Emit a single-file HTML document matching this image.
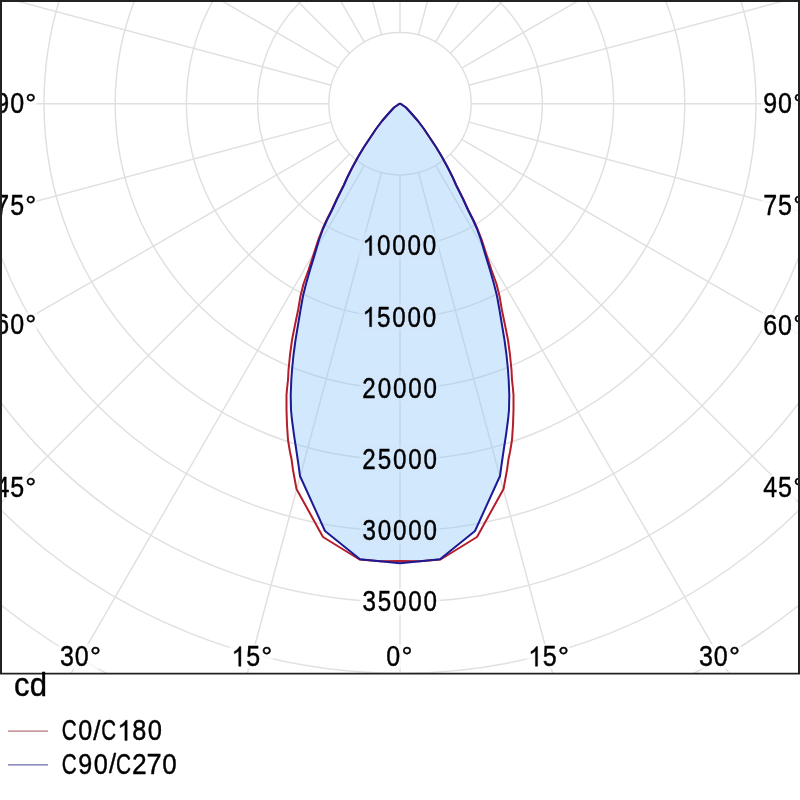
<!DOCTYPE html>
<html><head><meta charset="utf-8"><style>
html,body{margin:0;padding:0;background:#fff;}
body{width:800px;height:800px;overflow:hidden;}
svg{display:block;will-change:transform;}
text{font-family:"Liberation Sans",sans-serif;font-kerning:none;}
.t text,.t path{fill:#000;stroke:#000;stroke-linejoin:round;}
.t text{font-size:100px;}
.t tspan{fill:none;stroke:none;}
</style></head><body>
<svg width="800" height="800" viewBox="0 0 800 800">
<defs><clipPath id="c"><rect x="0" y="0" width="800" height="673.60"/></clipPath></defs>
<g clip-path="url(#c)">
<g fill="none" stroke="#e0e0e0" stroke-width="1.45">
<circle cx="400.00" cy="103.70" r="71.20"/>
<circle cx="400.00" cy="103.70" r="142.40"/>
<circle cx="400.00" cy="103.70" r="213.60"/>
<circle cx="400.00" cy="103.70" r="284.80"/>
<circle cx="400.00" cy="103.70" r="356.00"/>
<circle cx="400.00" cy="103.70" r="427.20"/>
<circle cx="400.00" cy="103.70" r="498.40"/>
<circle cx="400.00" cy="103.70" r="569.60"/>
<circle cx="400.00" cy="103.70" r="640.80"/>
<line x1="400.00" y1="174.90" x2="400.00" y2="1303.70"/>
<line x1="418.43" y1="172.47" x2="710.58" y2="1262.81"/>
<line x1="435.60" y1="165.36" x2="1000.00" y2="1142.93"/>
<line x1="450.35" y1="154.05" x2="1248.53" y2="952.23"/>
<line x1="461.66" y1="139.30" x2="1439.23" y2="703.70"/>
<line x1="468.77" y1="122.13" x2="1559.11" y2="414.28"/>
<line x1="471.20" y1="103.70" x2="1600.00" y2="103.70"/>
<line x1="468.77" y1="85.27" x2="1559.11" y2="-206.88"/>
<line x1="461.66" y1="68.10" x2="1439.23" y2="-496.30"/>
<line x1="450.35" y1="53.35" x2="1248.53" y2="-744.83"/>
<line x1="435.60" y1="42.04" x2="1000.00" y2="-935.53"/>
<line x1="418.43" y1="34.93" x2="710.58" y2="-1055.41"/>
<line x1="400.00" y1="32.50" x2="400.00" y2="-1096.30"/>
<line x1="381.57" y1="34.93" x2="89.42" y2="-1055.41"/>
<line x1="364.40" y1="42.04" x2="-200.00" y2="-935.53"/>
<line x1="349.65" y1="53.35" x2="-448.53" y2="-744.83"/>
<line x1="338.34" y1="68.10" x2="-639.23" y2="-496.30"/>
<line x1="331.23" y1="85.27" x2="-759.11" y2="-206.88"/>
<line x1="328.80" y1="103.70" x2="-800.00" y2="103.70"/>
<line x1="331.23" y1="122.13" x2="-759.11" y2="414.28"/>
<line x1="338.34" y1="139.30" x2="-639.23" y2="703.70"/>
<line x1="349.65" y1="154.05" x2="-448.53" y2="952.23"/>
<line x1="364.40" y1="165.36" x2="-200.00" y2="1142.93"/>
<line x1="381.57" y1="172.47" x2="89.42" y2="1262.81"/>
</g>
<path d="M400.00,103.70 L398.00,104.70 L394.00,107.50 L389.00,113.00 L382.00,121.00 L376.00,129.00 L370.00,138.00 L364.00,147.00 L358.00,157.00 L352.00,168.00 L347.00,178.00 L344.00,185.00 L337.00,199.00 L332.00,210.00 L327.00,220.00 L323.00,229.00 L319.00,240.00 L314.00,257.00 L310.00,270.00 L306.00,284.00 L303.00,296.00 L300.50,310.00 L298.00,325.00 L295.50,340.00 L293.50,355.00 L292.00,370.00 L291.30,380.00 L290.70,395.00 L291.00,410.00 L292.00,420.00 L294.00,435.00 L296.00,448.00 L298.50,465.00 L300.00,476.00 L325.00,531.00 L360.00,559.30 L400.00,563.30 L440.00,559.30 L475.00,531.00 L500.00,476.00 L501.50,465.00 L504.00,448.00 L506.00,435.00 L508.00,420.00 L509.00,410.00 L509.30,395.00 L508.70,380.00 L508.00,370.00 L506.50,355.00 L504.50,340.00 L502.00,325.00 L499.50,310.00 L497.00,296.00 L494.00,284.00 L490.00,270.00 L486.00,257.00 L481.00,240.00 L477.00,229.00 L473.00,220.00 L468.00,210.00 L463.00,199.00 L456.00,185.00 L453.00,178.00 L448.00,168.00 L442.00,157.00 L436.00,147.00 L430.00,138.00 L424.00,129.00 L418.00,121.00 L411.00,113.00 L406.00,107.50 L402.00,104.70 L400.00,103.70 Z" fill="#8ec5f7" fill-opacity="0.4" stroke="none"/>
<path d="M400.00,103.70 L398.00,104.70 L394.00,107.50 L389.00,113.00 L382.00,121.00 L376.00,129.00 L370.00,138.00 L364.00,147.00 L358.00,157.00 L352.00,168.00 L347.00,178.00 L343.80,185.00 L336.80,199.00 L331.70,210.00 L326.60,220.00 L322.50,229.00 L318.20,240.00 L312.80,257.00 L308.50,270.00 L303.50,284.00 L300.50,296.00 L298.10,310.00 L295.00,325.00 L292.00,340.00 L290.00,355.00 L288.50,370.00 L288.00,380.00 L287.00,389.00 L286.50,395.00 L286.50,410.00 L287.00,425.00 L288.00,440.00 L290.00,452.00 L291.50,459.00 L293.00,470.00 L296.50,489.00 L323.00,537.00 L359.50,559.50 L380.00,561.20 L400.00,561.00 L420.00,561.20 L440.50,559.50 L477.00,537.00 L503.50,489.00 L507.00,470.00 L508.50,459.00 L510.00,452.00 L512.00,440.00 L513.00,425.00 L513.50,410.00 L513.50,395.00 L513.00,389.00 L512.00,380.00 L511.50,370.00 L510.00,355.00 L508.00,340.00 L505.00,325.00 L501.90,310.00 L499.50,296.00 L496.50,284.00 L491.50,270.00 L487.20,257.00 L481.80,240.00 L477.50,229.00 L473.40,220.00 L468.30,210.00 L463.20,199.00 L456.20,185.00 L453.00,178.00 L448.00,168.00 L442.00,157.00 L436.00,147.00 L430.00,138.00 L424.00,129.00 L418.00,121.00 L411.00,113.00 L406.00,107.50 L402.00,104.70 L400.00,103.70 Z" fill="none" stroke="#b41e2a" stroke-width="2" stroke-linejoin="round"/>
<path d="M400.00,103.70 L398.00,104.70 L394.00,107.50 L389.00,113.00 L382.00,121.00 L376.00,129.00 L370.00,138.00 L364.00,147.00 L358.00,157.00 L352.00,168.00 L347.00,178.00 L344.00,185.00 L337.00,199.00 L332.00,210.00 L327.00,220.00 L323.00,229.00 L319.00,240.00 L314.00,257.00 L310.00,270.00 L306.00,284.00 L303.00,296.00 L300.50,310.00 L298.00,325.00 L295.50,340.00 L293.50,355.00 L292.00,370.00 L291.30,380.00 L290.70,395.00 L291.00,410.00 L292.00,420.00 L294.00,435.00 L296.00,448.00 L298.50,465.00 L300.00,476.00 L325.00,531.00 L360.00,559.30 L400.00,563.30 L440.00,559.30 L475.00,531.00 L500.00,476.00 L501.50,465.00 L504.00,448.00 L506.00,435.00 L508.00,420.00 L509.00,410.00 L509.30,395.00 L508.70,380.00 L508.00,370.00 L506.50,355.00 L504.50,340.00 L502.00,325.00 L499.50,310.00 L497.00,296.00 L494.00,284.00 L490.00,270.00 L486.00,257.00 L481.00,240.00 L477.00,229.00 L473.00,220.00 L468.00,210.00 L463.00,199.00 L456.00,185.00 L453.00,178.00 L448.00,168.00 L442.00,157.00 L436.00,147.00 L430.00,138.00 L424.00,129.00 L418.00,121.00 L411.00,113.00 L406.00,107.50 L402.00,104.70 L400.00,103.70 Z" fill="none" stroke="#1c1a94" stroke-width="2" stroke-linejoin="round"/>
<g class="t">
<rect x="358.90" y="232.25" width="80.20" height="26.70" fill="#d2e7fc" fill-opacity="0.7" stroke="none"/>
<path transform="matrix(0.01182,0,0,-0.01400,362.648,255.470)" stroke-width="30.99" d="M763,0 L583,0 L583,1098 Q518,1038 412,979 Q306,920 222,890 L222,1057 Q373,1124 486,1221 Q599,1318 646,1409 L763,1409 Z"/>
<text transform="matrix(0.24200,0,0,0.28672,376.971,255.470)" stroke-width="1.51">0</text>
<text transform="matrix(0.24200,0,0,0.28672,392.271,255.470)" stroke-width="1.51">0</text>
<text transform="matrix(0.24200,0,0,0.28672,407.571,255.470)" stroke-width="1.51">0</text>
<text transform="matrix(0.24200,0,0,0.28672,422.871,255.470)" stroke-width="1.51">0</text>
<rect x="358.90" y="303.45" width="80.20" height="26.70" fill="#d2e7fc" fill-opacity="0.7" stroke="none"/>
<path transform="matrix(0.01182,0,0,-0.01400,362.648,326.670)" stroke-width="30.99" d="M763,0 L583,0 L583,1098 Q518,1038 412,979 Q306,920 222,890 L222,1057 Q373,1124 486,1221 Q599,1318 646,1409 L763,1409 Z"/>
<text transform="matrix(0.24200,0,0,0.28672,376.994,326.670)" stroke-width="1.51">5</text>
<text transform="matrix(0.24200,0,0,0.28672,392.271,326.670)" stroke-width="1.51">0</text>
<text transform="matrix(0.24200,0,0,0.28672,407.571,326.670)" stroke-width="1.51">0</text>
<text transform="matrix(0.24200,0,0,0.28672,422.871,326.670)" stroke-width="1.51">0</text>
<rect x="359.60" y="374.65" width="80.20" height="26.70" fill="#d2e7fc" fill-opacity="0.7" stroke="none"/>
<text transform="matrix(0.24200,0,0,0.28672,362.371,397.870)" stroke-width="1.51">2</text>
<text transform="matrix(0.24200,0,0,0.28672,377.671,397.870)" stroke-width="1.51">0</text>
<text transform="matrix(0.24200,0,0,0.28672,392.971,397.870)" stroke-width="1.51">0</text>
<text transform="matrix(0.24200,0,0,0.28672,408.271,397.870)" stroke-width="1.51">0</text>
<text transform="matrix(0.24200,0,0,0.28672,423.571,397.870)" stroke-width="1.51">0</text>
<rect x="359.60" y="445.85" width="80.20" height="26.70" fill="#d2e7fc" fill-opacity="0.7" stroke="none"/>
<text transform="matrix(0.24200,0,0,0.28672,362.371,469.070)" stroke-width="1.51">2</text>
<text transform="matrix(0.24200,0,0,0.28672,377.694,469.070)" stroke-width="1.51">5</text>
<text transform="matrix(0.24200,0,0,0.28672,392.971,469.070)" stroke-width="1.51">0</text>
<text transform="matrix(0.24200,0,0,0.28672,408.271,469.070)" stroke-width="1.51">0</text>
<text transform="matrix(0.24200,0,0,0.28672,423.571,469.070)" stroke-width="1.51">0</text>
<rect x="359.60" y="517.05" width="80.20" height="26.70" fill="#d2e7fc" fill-opacity="0.7" stroke="none"/>
<text transform="matrix(0.24200,0,0,0.28672,362.441,540.270)" stroke-width="1.51">3</text>
<text transform="matrix(0.24200,0,0,0.28672,377.671,540.270)" stroke-width="1.51">0</text>
<text transform="matrix(0.24200,0,0,0.28672,392.971,540.270)" stroke-width="1.51">0</text>
<text transform="matrix(0.24200,0,0,0.28672,408.271,540.270)" stroke-width="1.51">0</text>
<text transform="matrix(0.24200,0,0,0.28672,423.571,540.270)" stroke-width="1.51">0</text>
<rect x="359.60" y="588.25" width="80.20" height="26.70" fill="#fff" fill-opacity="0.75" stroke="none"/>
<text transform="matrix(0.24200,0,0,0.28672,362.441,611.470)" stroke-width="1.51">3</text>
<text transform="matrix(0.24200,0,0,0.28672,377.694,611.470)" stroke-width="1.51">5</text>
<text transform="matrix(0.24200,0,0,0.28672,392.971,611.470)" stroke-width="1.51">0</text>
<text transform="matrix(0.24200,0,0,0.28672,408.271,611.470)" stroke-width="1.51">0</text>
<text transform="matrix(0.24200,0,0,0.28672,423.571,611.470)" stroke-width="1.51">0</text>
<rect x="-6.20" y="90.75" width="43.20" height="24.70" fill="#fff" fill-opacity="0.7" stroke="none"/>
<text transform="matrix(0.25000,0,0,0.28672,-4.646,112.970)" stroke-width="1.49">9</text>
<text transform="matrix(0.25000,0,0,0.28672,10.148,112.970)" stroke-width="1.49">0</text>
<text transform="matrix(0.27473,0,0,0.26588,25.313,111.815)" stroke-width="1.48">°</text>
<rect x="761.70" y="90.65" width="43.20" height="24.70" fill="#fff" fill-opacity="0.7" stroke="none"/>
<text transform="matrix(0.25000,0,0,0.28672,763.254,112.870)" stroke-width="1.49">9</text>
<text transform="matrix(0.25000,0,0,0.28672,778.048,112.870)" stroke-width="1.49">0</text>
<text transform="matrix(0.27473,0,0,0.26588,793.213,111.715)" stroke-width="1.48">°</text>
<rect x="-6.20" y="192.75" width="43.20" height="24.70" fill="#fff" fill-opacity="0.7" stroke="none"/>
<text transform="matrix(0.25000,0,0,0.28672,-4.664,214.970)" stroke-width="1.49">7</text>
<text transform="matrix(0.25000,0,0,0.28672,10.173,214.970)" stroke-width="1.49">5</text>
<text transform="matrix(0.27473,0,0,0.26588,25.313,213.815)" stroke-width="1.48">°</text>
<rect x="761.70" y="192.95" width="43.20" height="24.70" fill="#fff" fill-opacity="0.7" stroke="none"/>
<text transform="matrix(0.25000,0,0,0.28672,763.236,215.170)" stroke-width="1.49">7</text>
<text transform="matrix(0.25000,0,0,0.28672,778.073,215.170)" stroke-width="1.49">5</text>
<text transform="matrix(0.27473,0,0,0.26588,793.213,214.015)" stroke-width="1.48">°</text>
<rect x="-6.20" y="312.25" width="43.20" height="24.70" fill="#fff" fill-opacity="0.7" stroke="none"/>
<text transform="matrix(0.25000,0,0,0.28672,-4.737,334.470)" stroke-width="1.49">6</text>
<text transform="matrix(0.25000,0,0,0.28672,10.148,334.470)" stroke-width="1.49">0</text>
<text transform="matrix(0.27473,0,0,0.26588,25.313,333.315)" stroke-width="1.48">°</text>
<rect x="761.70" y="312.35" width="43.20" height="24.70" fill="#fff" fill-opacity="0.7" stroke="none"/>
<text transform="matrix(0.25000,0,0,0.28672,763.163,334.570)" stroke-width="1.49">6</text>
<text transform="matrix(0.25000,0,0,0.28672,778.048,334.570)" stroke-width="1.49">0</text>
<text transform="matrix(0.27473,0,0,0.26588,793.213,333.415)" stroke-width="1.48">°</text>
<rect x="-6.20" y="474.85" width="43.20" height="24.70" fill="#fff" fill-opacity="0.7" stroke="none"/>
<text transform="matrix(0.25000,0,0,0.28672,-4.573,497.070)" stroke-width="1.49">4</text>
<text transform="matrix(0.25000,0,0,0.28672,10.173,497.070)" stroke-width="1.49">5</text>
<text transform="matrix(0.27473,0,0,0.26588,25.313,495.915)" stroke-width="1.48">°</text>
<rect x="761.70" y="474.95" width="43.20" height="24.70" fill="#fff" fill-opacity="0.7" stroke="none"/>
<text transform="matrix(0.25000,0,0,0.28672,763.327,497.170)" stroke-width="1.49">4</text>
<text transform="matrix(0.25000,0,0,0.28672,778.073,497.170)" stroke-width="1.49">5</text>
<text transform="matrix(0.27473,0,0,0.26588,793.213,496.015)" stroke-width="1.48">°</text>
<rect x="58.40" y="644.10" width="43.20" height="24.70" fill="#fff" fill-opacity="0.7" stroke="none"/>
<text transform="matrix(0.25000,0,0,0.28672,60.021,666.320)" stroke-width="1.49">3</text>
<text transform="matrix(0.25000,0,0,0.28672,74.748,666.320)" stroke-width="1.49">0</text>
<text transform="matrix(0.27473,0,0,0.26588,89.913,665.165)" stroke-width="1.48">°</text>
<rect x="229.80" y="644.10" width="43.20" height="24.70" fill="#fff" fill-opacity="0.7" stroke="none"/>
<path transform="matrix(0.01221,0,0,-0.01400,231.585,666.320)" stroke-width="30.53" d="M763,0 L583,0 L583,1098 Q518,1038 412,979 Q306,920 222,890 L222,1057 Q373,1124 486,1221 Q599,1318 646,1409 L763,1409 Z"/>
<text transform="matrix(0.25000,0,0,0.28672,246.173,666.320)" stroke-width="1.49">5</text>
<text transform="matrix(0.27473,0,0,0.26588,261.313,665.165)" stroke-width="1.48">°</text>
<rect x="384.80" y="644.10" width="28.40" height="24.70" fill="#fff" fill-opacity="0.7" stroke="none"/>
<text transform="matrix(0.25000,0,0,0.28672,386.348,666.320)" stroke-width="1.49">0</text>
<text transform="matrix(0.27473,0,0,0.26588,401.513,665.165)" stroke-width="1.48">°</text>
<rect x="526.50" y="644.10" width="43.20" height="24.70" fill="#fff" fill-opacity="0.7" stroke="none"/>
<path transform="matrix(0.01221,0,0,-0.01400,528.285,666.320)" stroke-width="30.53" d="M763,0 L583,0 L583,1098 Q518,1038 412,979 Q306,920 222,890 L222,1057 Q373,1124 486,1221 Q599,1318 646,1409 L763,1409 Z"/>
<text transform="matrix(0.25000,0,0,0.28672,542.873,666.320)" stroke-width="1.49">5</text>
<text transform="matrix(0.27473,0,0,0.26588,558.013,665.165)" stroke-width="1.48">°</text>
<rect x="697.50" y="644.10" width="43.20" height="24.70" fill="#fff" fill-opacity="0.7" stroke="none"/>
<text transform="matrix(0.25000,0,0,0.28672,699.121,666.320)" stroke-width="1.49">3</text>
<text transform="matrix(0.25000,0,0,0.28672,713.848,666.320)" stroke-width="1.49">0</text>
<text transform="matrix(0.27473,0,0,0.26588,729.013,665.165)" stroke-width="1.48">°</text>
</g>
</g>
<path d="M1,674 V1 H799 V674" fill="none" stroke="#222" stroke-width="2"/>
<line x1="0" y1="673.6" x2="800" y2="673.6" stroke="#222" stroke-width="1.6"/>
<g class="t">
<text transform="matrix(0.20685,0,0,0.29378,61.650,740.413)" stroke-width="1.60">C</text>
<text transform="matrix(0.25103,0,0,0.29378,78.319,740.413)" stroke-width="1.47">0</text>
<text transform="matrix(0.26275,0,0,0.27506,93.300,740.131)" stroke-width="1.49">/</text>
<text transform="matrix(0.20527,0,0,0.29378,101.158,740.413)" stroke-width="1.60">C</text>
<path transform="matrix(0.01294,0,0,-0.01434,117.328,740.413)" stroke-width="29.32" d="M763,0 L583,0 L583,1098 Q518,1038 412,979 Q306,920 222,890 L222,1057 Q373,1124 486,1221 Q599,1318 646,1409 L763,1409 Z"/>
<text transform="matrix(0.25254,0,0,0.29378,132.353,740.413)" stroke-width="1.46">8</text>
<text transform="matrix(0.25522,0,0,0.29378,147.703,740.413)" stroke-width="1.46">0</text>
<text transform="matrix(0.20685,0,0,0.29096,61.650,773.516)" stroke-width="1.61">C</text>
<text transform="matrix(0.25113,0,0,0.29096,78.223,773.516)" stroke-width="1.48">9</text>
<text transform="matrix(0.25312,0,0,0.29096,93.711,773.516)" stroke-width="1.47">0</text>
<text transform="matrix(0.25555,0,0,0.27234,108.950,773.234)" stroke-width="1.52">/</text>
<text transform="matrix(0.20843,0,0,0.29096,115.942,773.516)" stroke-width="1.60">C</text>
<text transform="matrix(0.26341,0,0,0.29096,131.875,773.516)" stroke-width="1.44">2</text>
<text transform="matrix(0.27277,0,0,0.29096,146.602,773.516)" stroke-width="1.42">7</text>
<text transform="matrix(0.25940,0,0,0.29096,162.187,773.516)" stroke-width="1.45">0</text>
<text transform="matrix(0.30964,0,0,0.33860,14.035,696.069)" stroke-width="1.23">c</text>
<text transform="matrix(0.31131,0,0,0.33860,29.793,696.069)" stroke-width="1.23">d</text>
</g>
<line x1="8" y1="731.2" x2="48" y2="731.2" stroke="#b47478" stroke-width="1.2"/>
<line x1="8" y1="764.8" x2="48" y2="764.8" stroke="#6e6eaa" stroke-width="1.2"/>
</svg>
</body></html>
